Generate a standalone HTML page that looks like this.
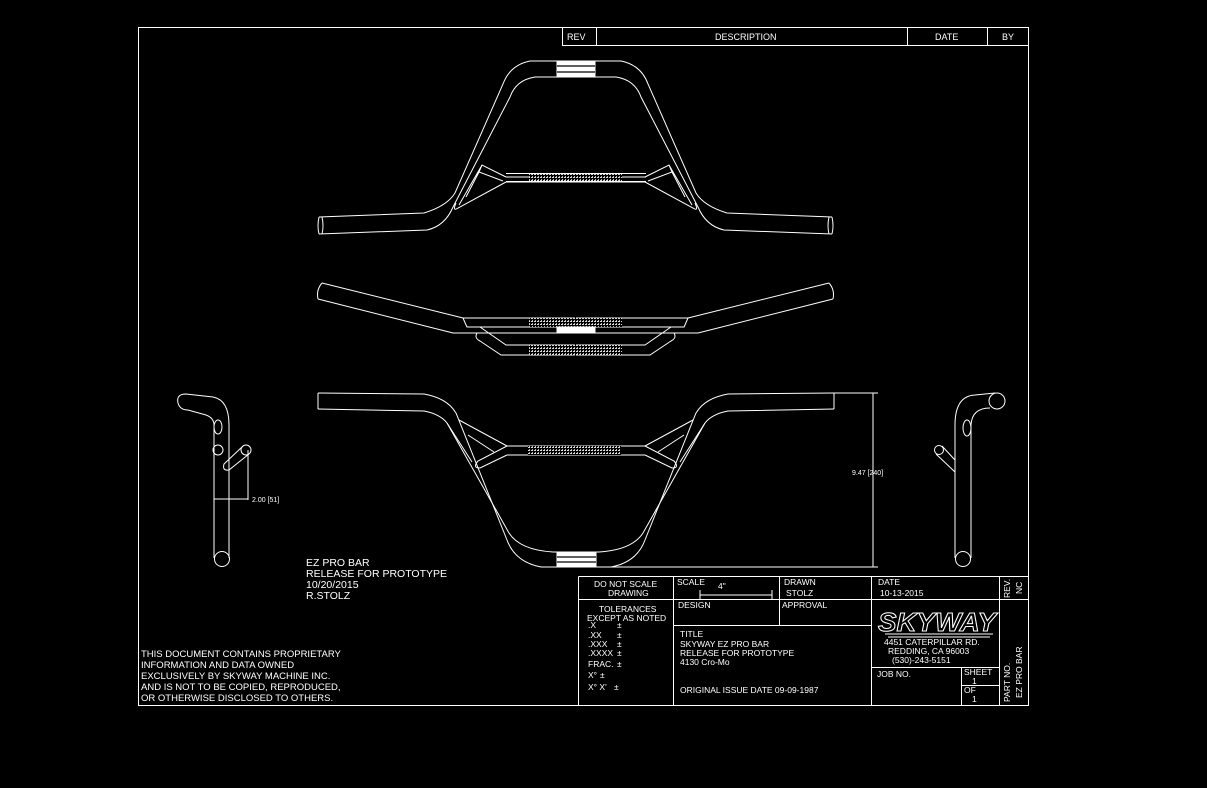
<!DOCTYPE html>
<html><head><meta charset="utf-8"><style>
html,body{margin:0;padding:0;background:#000;}
svg{display:block;}
text{font-family:"Liberation Sans",sans-serif;fill:#fff;}
</style></head><body>
<svg width="1207" height="788" viewBox="0 0 1207 788" xmlns="http://www.w3.org/2000/svg">
<defs>
<pattern id="kn" width="3" height="3" patternUnits="userSpaceOnUse"><rect width="3" height="3" fill="#000"/><rect width="2" height="1" fill="#ddd"/><rect x="1" y="2" width="1" height="1" fill="#bbb"/></pattern>
</defs>
<g fill="none" stroke="#fff" stroke-width="1">
<rect x="138.5" y="27.5" width="890" height="678"/>
<path d="M562.5 27.5V45.5H1028.5M596.5 27.5V45.5M907.5 27.5V45.5M987.5 27.5V45.5"/>

<g id="topL">
<path d="M319 217 L424 213 Q447 206 455 193 L503 84 Q510 65 530 61 L557 61"/>
<path d="M319 234 L427 230 Q445 226 453 207 L510 97 Q516 80 535 77 L557 77"/>
<path d="M319 217 Q317 226 319 234 M322 217 Q324 226 322 234"/>
<path d="M506 177 L482 165 L479 172 L503 181 M479 172 L466 197 M482 165 L459 205 M506 182 L458 208 Q452 212 456 203"/>
</g>
<use href="#topL" transform="translate(1151 0) scale(-1 1)"/>
<rect x="557" y="61" width="38" height="16" fill="#fff"/>
<path d="M557 66H595M557 72H595" stroke="#000" stroke-width="1.2"/>
<path d="M506 177H646M506 182H646"/>
<rect x="529" y="173" width="93" height="9" fill="url(#kn)" stroke="none"/>
<path d="M506 173.5H646M506 181.5H646"/>

<g id="midL">
<path d="M322 283 L463 318 L575 318"/>
<path d="M318 299 L453 333 L575 333"/>
<path d="M322 283 Q316 290 318 299"/>
<path d="M463 318 Q466 325 467 327 L575 327"/>
<path d="M480 327 L506 345 L575 345 M477 333 Q474 338 480 341 L501 355 L575 355"/>
</g>
<use href="#midL" transform="translate(1151 0) scale(-1 1)"/>
<rect x="529" y="318" width="93" height="9" fill="url(#kn)" stroke="none"/>
<rect x="529" y="345" width="93" height="10" fill="url(#kn)" stroke="none"/>
<rect x="557" y="327" width="38" height="6" fill="#fff"/>

<g id="frL">
<path d="M318 393 L424 394 Q447 398 456 413 L507 540 Q515 562 541 567 L576 567"/>
<path d="M318 409 L424 411 Q440 414 447 423 L509 533 Q520 550 553 552 L576 552"/>
<path d="M318 393 V409"/>
<path d="M507 446 L478 461 Q472 468 480 468 L507 455 M459 420 L507 446 M468 435 L494 452 M447 423 L472 462"/>
</g>
<use href="#frL" transform="translate(1152 0) scale(-1 1)"/>
<path d="M507 446H645M507 455H645"/>
<rect x="528" y="446" width="93" height="9" fill="url(#kn)" stroke="none"/>
<rect x="557" y="552" width="39" height="15" fill="#fff"/>
<path d="M557 557H596M557 562H596" stroke="#000" stroke-width="1.2"/>
<path d="M873 393V567M834 393H878M611 567H878"/>

<path d="M214 425V558M229 425V558"/>
<path d="M229 425 Q229 400 213 397 L186 394 Q176 394 178 403 Q180 410 188 410 L206 415 Q214 418 214 425"/>
<ellipse cx="218" cy="427" rx="4" ry="7"/>
<circle cx="218" cy="450" r="5"/>
<circle cx="222" cy="559" r="7.5"/>
<circle cx="246" cy="450" r="5"/>
<path d="M242 447 L224 464 Q222 471 229 470 L249 454"/>
<path d="M248 450V500M214 499H248"/>

<path d="M955 425V558M971 425V558"/>
<path d="M955 425 Q955 396 975 395 L995 393 M971 425 Q972 408 990 408"/>
<circle cx="997" cy="401" r="8"/>
<ellipse cx="967" cy="428" rx="4" ry="8"/>
<circle cx="939" cy="450" r="4.5"/>
<path d="M942 446 L955 460 M936 454 L955 472"/>
<circle cx="963" cy="559" r="7.5"/>

<path d="M578.5 576.5H1028.5M578.5 576.5V705.5M673.5 576.5V705.5M779.5 576.5V625.5M871.5 576.5V705.5M999.5 576.5V705.5"/>
<path d="M578.5 599.5H1028.5M673.5 625.5H871.5M871.5 667.5H999.5M961.5 667.5V705.5M961.5 685.5H999.5"/>
<path d="M700 595H772M700 590V600M772 590V600"/>
</g>

<g font-size="9">
<text x="567" y="40">REV</text>
<text x="715" y="40">DESCRIPTION</text>
<text x="935" y="40">DATE</text>
<text x="1002" y="40">BY</text>
</g>

<text x="852" y="475" font-size="7">9.47 [240]</text>
<text x="252" y="502" font-size="7">2.00 [51]</text>

<g font-size="10.5">
<text x="306" y="566">EZ PRO BAR</text>
<text x="306" y="577">RELEASE FOR PROTOTYPE</text>
<text x="306" y="588">10/20/2015</text>
<text x="306" y="599">R.STOLZ</text>
</g>
<g font-size="9.5">
<text x="141" y="657">THIS DOCUMENT CONTAINS PROPRIETARY</text>
<text x="141" y="668">INFORMATION AND DATA OWNED</text>
<text x="141" y="679">EXCLUSIVELY BY SKYWAY MACHINE INC.</text>
<text x="141" y="690">AND IS NOT TO BE COPIED, REPRODUCED,</text>
<text x="141" y="701">OR OTHERWISE DISCLOSED TO OTHERS.</text>
</g>

<g font-size="8.5">
<text x="594" y="587">DO NOT SCALE</text>
<text x="608" y="596">DRAWING</text>
<text x="677" y="585">SCALE</text>
<text x="718" y="589">4"</text>
<text x="784" y="585">DRAWN</text>
<text x="786" y="596">STOLZ</text>
<text x="878" y="585">DATE</text>
<text x="880" y="596">10-13-2015</text>
<text x="599" y="612">TOLERANCES</text>
<text x="587" y="621">EXCEPT AS NOTED</text>
<text x="588" y="628">.X</text><text x="617" y="628">±</text>
<text x="588" y="638">.XX</text><text x="617" y="638">±</text>
<text x="588" y="647">.XXX</text><text x="617" y="647">±</text>
<text x="588" y="656">.XXXX</text><text x="617" y="656">±</text>
<text x="588" y="667">FRAC.</text><text x="617" y="667">±</text>
<text x="588" y="678">X°</text><text x="600" y="678">±</text>
<text x="588" y="690">X° X'</text><text x="614" y="690">±</text>
<text x="678" y="608">DESIGN</text>
<text x="782" y="608">APPROVAL</text>
<text x="680" y="637">TITLE</text>
<text x="680" y="647">SKYWAY EZ PRO BAR</text>
<text x="680" y="656">RELEASE FOR PROTOTYPE</text>
<text x="680" y="665">4130 Cro-Mo</text>
<text x="680" y="693">ORIGINAL ISSUE DATE 09-09-1987</text>
<text x="884" y="645">4451 CATERPILLAR RD.</text>
<text x="888" y="654">REDDING, CA 96003</text>
<text x="892" y="663">(530)-243-5151</text>
<text x="877" y="677">JOB NO.</text>
<text x="964" y="675">SHEET</text>
<text x="972" y="684">1</text>
<text x="964" y="693">OF</text>
<text x="972" y="702">1</text>
<text transform="translate(1010 598) rotate(-90)">REV.</text>
<text transform="translate(1022 594) rotate(-90)">NC</text>
<text transform="translate(1010 702) rotate(-90)">PART NO.</text>
<text transform="translate(1022 698) rotate(-90)">EZ PRO BAR</text>
</g>
<text x="878" y="631" font-size="26" font-style="italic" font-weight="bold" textLength="118" lengthAdjust="spacingAndGlyphs" style="fill:none;stroke:#fff;stroke-width:1">SKYWAY</text>
<path d="M885 634H993M888 637H990" stroke="#fff" fill="none"/>
</svg>
</body></html>
